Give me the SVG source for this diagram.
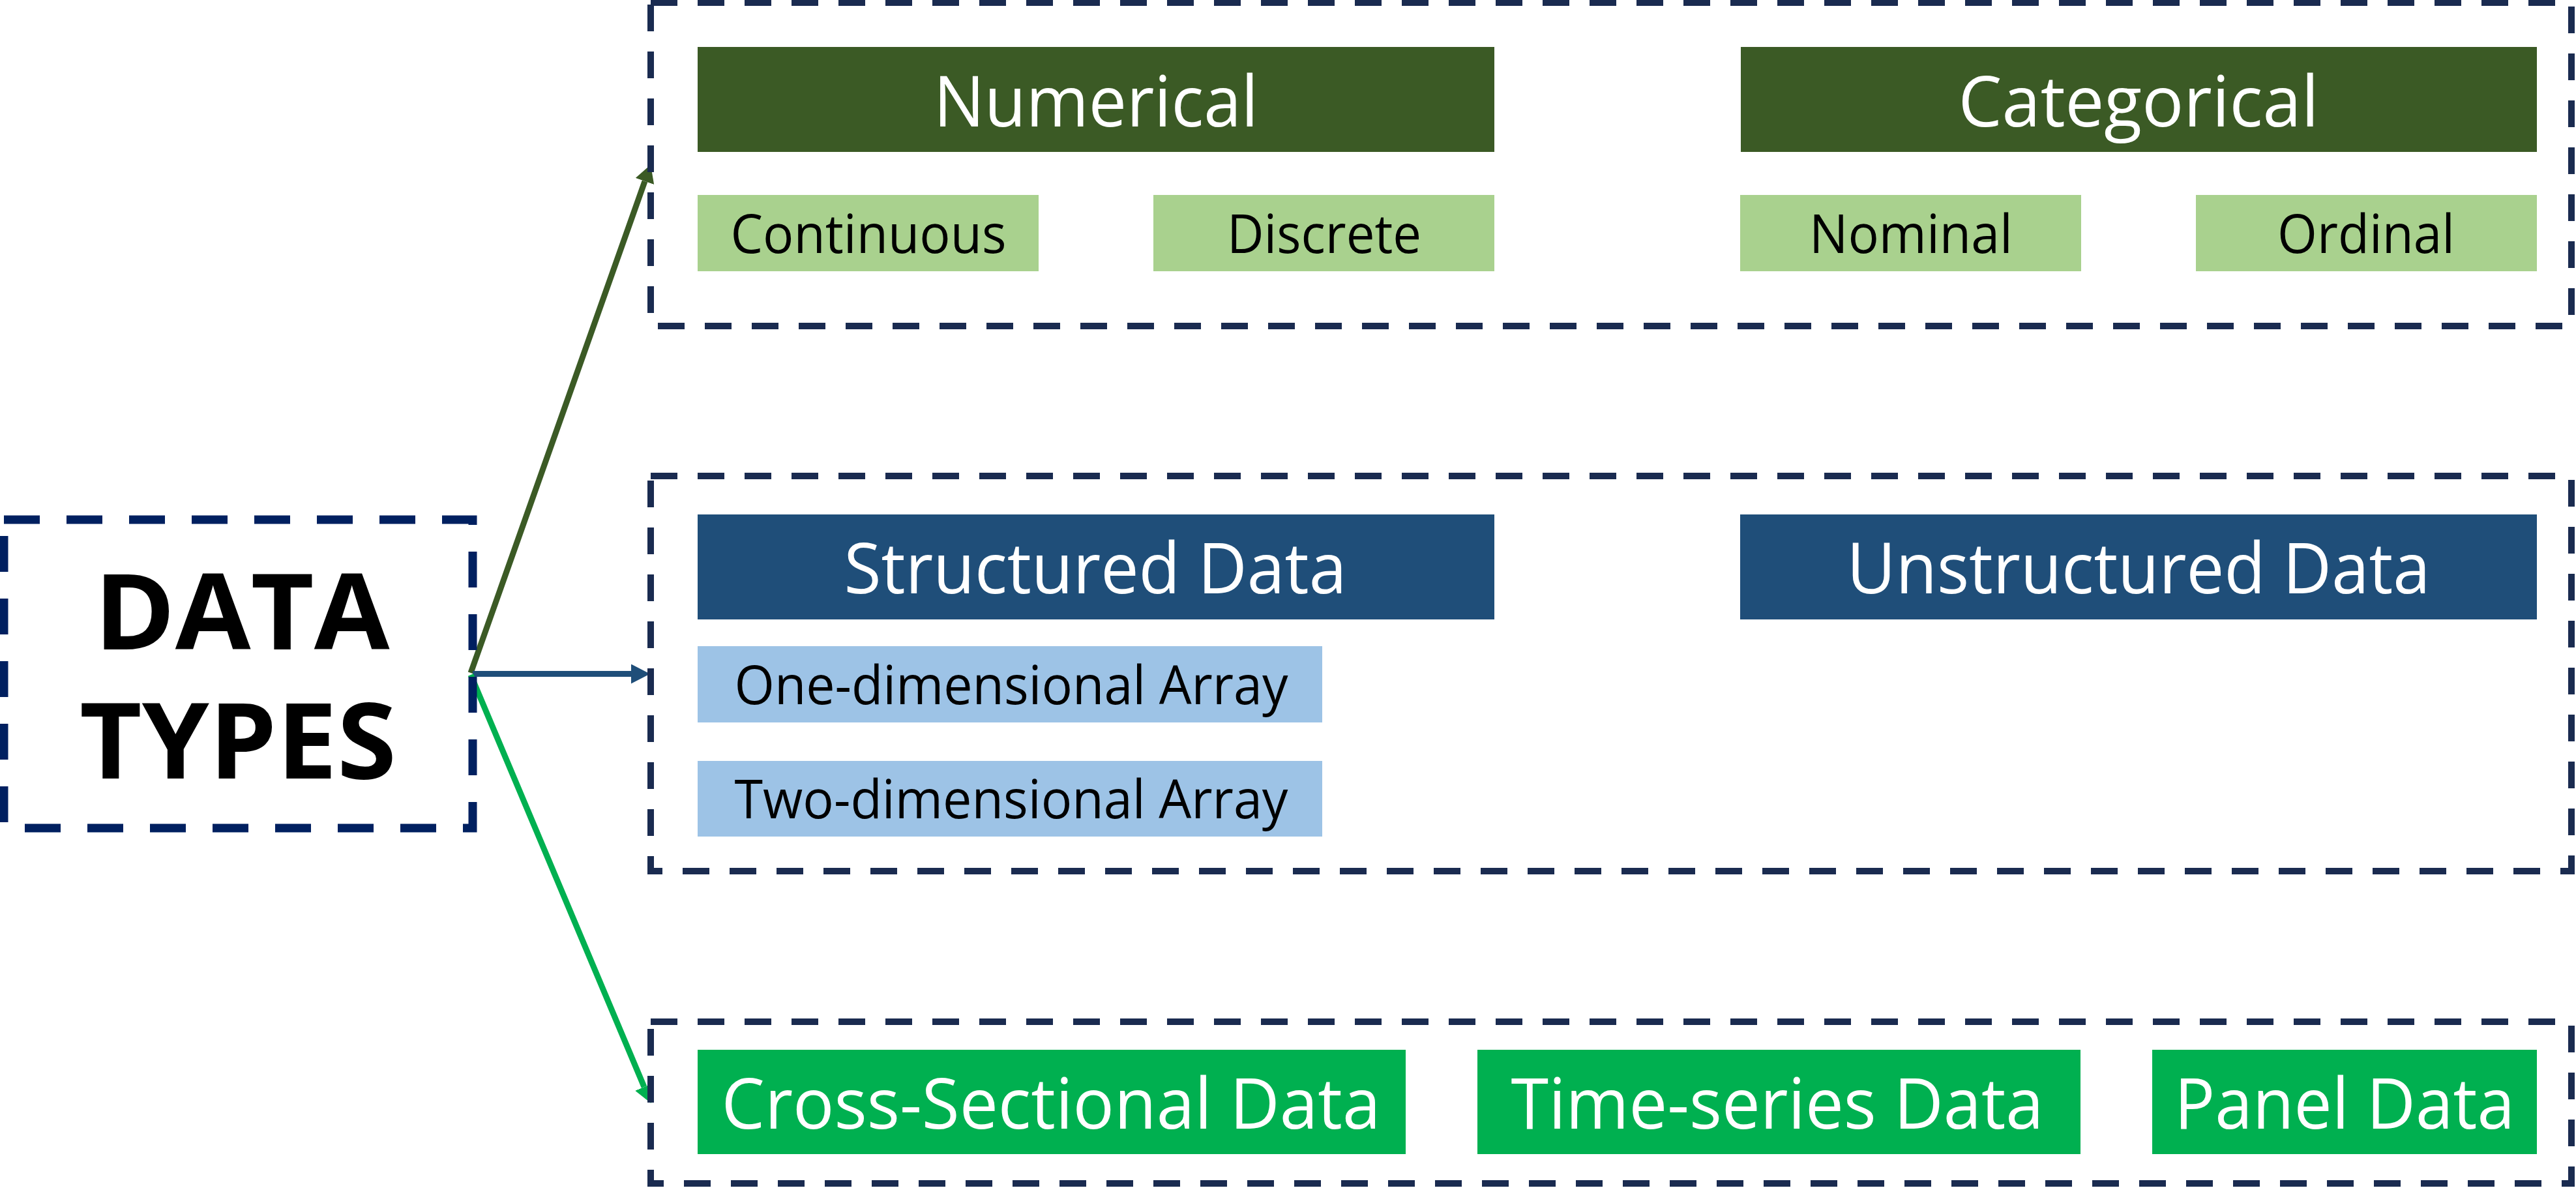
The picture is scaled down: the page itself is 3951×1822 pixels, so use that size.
<svg xmlns="http://www.w3.org/2000/svg" width="3951" height="1822" viewBox="0 0 3951 1822">
<style>
.frame{fill:none;stroke:#1a2b50;stroke-width:10;stroke-dasharray:41 31}
.root{fill:none;stroke:#002060;stroke-width:13;stroke-dasharray:55 41}
.t{font-family:"Open Sans","Noto Sans","DejaVu Sans",sans-serif;text-anchor:middle}
.big{font-size:108px;fill:#ffffff}
.small{font-size:82px;fill:#000000}
.title{font-size:162px;font-weight:bold;fill:#000000}
.dg{fill:#3b5a25}
.lg{fill:#a9d18e}
.db{fill:#1f4e79}
.lb{fill:#9dc3e6}
.gr{fill:#00b050}
.ln{fill:none;stroke-width:9}
</style>
<defs>
<marker id="aDG" markerUnits="userSpaceOnUse" markerWidth="28" markerHeight="30" refX="0" refY="15" orient="auto"><path d="M0,0 L27,15 L0,30 Z" fill="#3b5a25"/></marker>
<marker id="aDB" markerUnits="userSpaceOnUse" markerWidth="30" markerHeight="30" refX="0" refY="15" orient="auto"><path d="M0,0 L29,15 L0,30 Z" fill="#1f4e79"/></marker>
<marker id="aGR" markerUnits="userSpaceOnUse" markerWidth="28" markerHeight="30" refX="0" refY="15" orient="auto"><path d="M0,0 L27,15 L0,30 Z" fill="#00b050"/></marker>
</defs>
<rect width="3951" height="1822" fill="#ffffff"/>

<g id="connectors">
<line class="ln" x1="722" y1="1032" x2="989" y2="278" stroke="#3b5a25" marker-end="url(#aDG)"/>
<line class="ln" x1="725" y1="1033.5" x2="968" y2="1033.5" stroke="#1f4e79" marker-end="url(#aDB)"/>
<line class="ln" x1="722" y1="1035" x2="988" y2="1667" stroke="#00b050" marker-end="url(#aGR)"/>
</g>

<g id="data-types">
<rect class="root" x="6" y="797" width="719" height="473"/>
<text class="t title"><tspan x="371" y="996" textLength="453" lengthAdjust="spacingAndGlyphs">DATA</tspan><tspan x="365" y="1194" textLength="486" lengthAdjust="spacingAndGlyphs">TYPES</tspan></text>
</g>

<g id="group-measurement">
<rect class="frame" x="998" y="4" width="2946" height="496"/>
</g>
<g id="numerical">
<rect class="dg" x="1070" y="72" width="1222" height="161"/>
<text class="t big" x="1681" y="194" textLength="498" lengthAdjust="spacingAndGlyphs">Numerical</text>
</g>
<g id="categorical">
<rect class="dg" x="2670" y="72" width="1221" height="161"/>
<text class="t big" x="3280" y="194" textLength="553" lengthAdjust="spacingAndGlyphs">Categorical</text>
</g>
<g id="continuous">
<rect class="lg" x="1070" y="299" width="523" height="117"/>
<text class="t small" x="1332" y="388" textLength="423" lengthAdjust="spacingAndGlyphs">Continuous</text>
</g>
<g id="discrete">
<rect class="lg" x="1769" y="299" width="523" height="117"/>
<text class="t small" x="2031" y="388" textLength="298" lengthAdjust="spacingAndGlyphs">Discrete</text>
</g>
<g id="nominal">
<rect class="lg" x="2669" y="299" width="523" height="117"/>
<text class="t small" x="2931" y="388" textLength="312" lengthAdjust="spacingAndGlyphs">Nominal</text>
</g>
<g id="ordinal">
<rect class="lg" x="3368" y="299" width="523" height="117"/>
<text class="t small" x="3629" y="388" textLength="272" lengthAdjust="spacingAndGlyphs">Ordinal</text>
</g>

<g id="group-structure">
<rect class="frame" x="998" y="730" width="2946" height="606"/>
</g>
<g id="structured">
<rect class="db" x="1070" y="789" width="1222" height="161"/>
<text class="t big" x="1680" y="910" textLength="771" lengthAdjust="spacingAndGlyphs">Structured Data</text>
</g>
<g id="unstructured">
<rect class="db" x="2669" y="789" width="1222" height="161"/>
<text class="t big" x="3280" y="910" textLength="895" lengthAdjust="spacingAndGlyphs">Unstructured Data</text>
</g>
<g id="one-dim">
<rect class="lb" x="1070" y="991" width="958" height="117"/>
<text class="t small" x="1551" y="1080" textLength="849" lengthAdjust="spacingAndGlyphs">One-dimensional Array</text>
</g>
<g id="two-dim">
<rect class="lb" x="1070" y="1167" width="958" height="116"/>
<text class="t small" x="1551" y="1255" textLength="849" lengthAdjust="spacingAndGlyphs">Two-dimensional Array</text>
</g>

<g id="group-time">
<rect class="frame" x="998" y="1567" width="2946" height="248"/>
</g>
<g id="cross-sectional">
<rect class="gr" x="1070" y="1610" width="1086" height="160"/>
<text class="t big" x="1612" y="1731" textLength="1011" lengthAdjust="spacingAndGlyphs">Cross-Sectional Data</text>
</g>
<g id="time-series">
<rect class="gr" x="2266" y="1610" width="925" height="160"/>
<text class="t big" x="2726" y="1731" textLength="817" lengthAdjust="spacingAndGlyphs">Time-series Data</text>
</g>
<g id="panel">
<rect class="gr" x="3301" y="1610" width="590" height="160"/>
<text class="t big" x="3596" y="1731" textLength="522" lengthAdjust="spacingAndGlyphs">Panel Data</text>
</g>
</svg>
